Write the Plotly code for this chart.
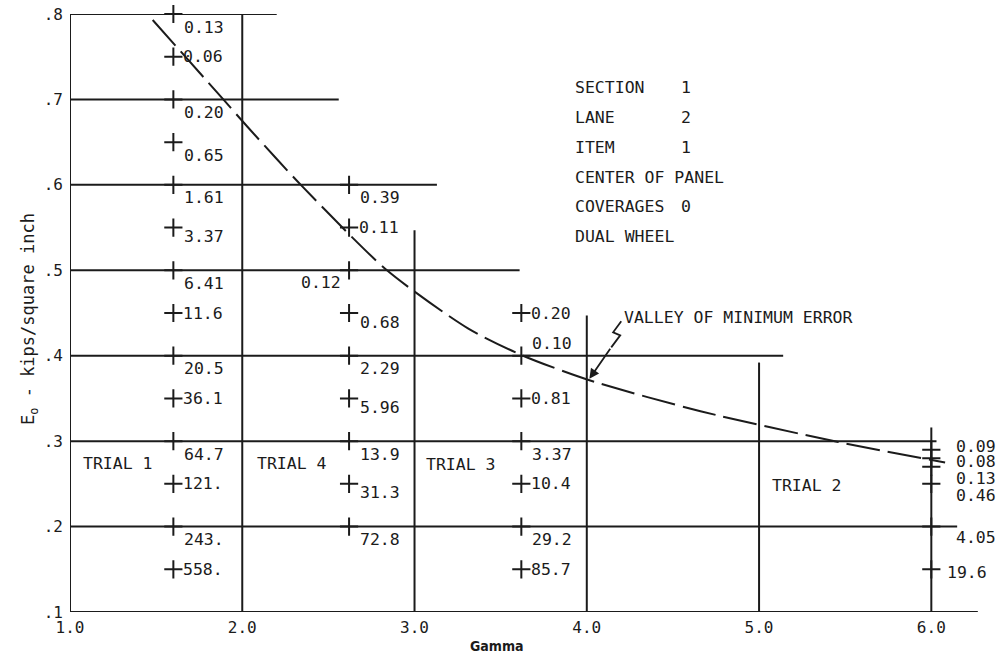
import plotly.graph_objects as go

# ---------------- data ----------------
# Gamma used for each trial and the E0 values tried along that column;
# each point carries the error figure printed beside it.
trial_names = ["TRIAL 1", "TRIAL 4", "TRIAL 3", "TRIAL 2"]
trial_gamma = [1.6, 2.62, 3.62, 6.0]

trial1_e0 = [0.80, 0.75, 0.70, 0.65, 0.60, 0.55, 0.50, 0.45, 0.40, 0.35, 0.30, 0.25, 0.20, 0.15]
trial1_err = ["0.13", "0.06", "0.20", "0.65", "1.61", "3.37", "6.41", "11.6", "20.5", "36.1",
              "64.7", "121.", "243.", "558."]

trial4_e0 = [0.60, 0.55, 0.50, 0.45, 0.40, 0.35, 0.30, 0.25, 0.20]
trial4_err = ["0.39", "0.11", "0.12", "0.68", "2.29", "5.96", "13.9", "31.3", "72.8"]

trial3_e0 = [0.45, 0.40, 0.35, 0.30, 0.25, 0.20, 0.15]
trial3_err = ["0.20", "0.10", "0.81", "3.37", "10.4", "29.2", "85.7"]

trial2_e0 = [0.29, 0.28, 0.27, 0.25, 0.20, 0.15]
trial2_err = ["0.09", "0.08", "0.13", "0.46", "4.05", "19.6"]

# Valley of minimum error (dashed curve)
valley_gamma = [1.48, 1.89, 2.03, 2.34, 2.84, 3.31, 3.63, 4.02, 4.66, 5.46, 6.08]
valley_e0 = [0.793, 0.700, 0.668, 0.600, 0.500, 0.432, 0.400, 0.371, 0.335, 0.299, 0.275]

# Horizontal guide lines (E0 level, gamma where the line stops)
guide_e0 = [0.8, 0.7, 0.6, 0.5, 0.4, 0.3, 0.2]
guide_end = [2.20, 2.56, 3.13, 3.61, 5.14, 6.03, 6.15]
# Vertical guide lines (gamma, E0 where the line stops)
vguide_gamma = [2.0, 3.0, 4.0, 5.0, 6.0]
vguide_top = [0.80, 0.547, 0.447, 0.392, 0.316]

x_tickvals = [1.0, 2.0, 3.0, 4.0, 5.0, 6.0]
x_ticktext = ["1.0", "2.0", "3.0", "4.0", "5.0", "6.0"]
y_tickvals = [0.1, 0.2, 0.3, 0.4, 0.5, 0.6, 0.7, 0.8]
y_ticktext = [".1", ".2", ".3", ".4", ".5", ".6", ".7", ".8"]

info_keys = ["SECTION", "LANE", "ITEM", "CENTER OF PANEL", "COVERAGES", "DUAL WHEEL"]
info_vals = ["1", "2", "1", "", "0", ""]

# ---------------- styling ----------------
ink = "#1b1b1b"
mono = "DejaVu Sans Mono, Liberation Mono, monospace"
lab_font = dict(family=mono, size=16.5, color=ink)

# label placement relative to its "+" mark: (xshift, yshift, xanchor)
place = {
    "b": (9, -13, "left"),    # just under a guide line
    "s": (9, -9, "left"),     # slightly lowered
    "r": (8, 0, "left"),      # level, to the right
    "lb": (-6, -12, "right"),  # under, to the left
    "a": (9, 12, "left"),     # above, to the right
}
trial1_place = ["b", "r", "b", "b", "b", "s", "b", "r", "b", "r", "b", "r", "b", "r"]
trial4_place = ["b", "r", "lb", "s", "b", "s", "b", "s", "b"]
trial3_place = ["r", "a", "r", "b", "r", "b", "r"]
trial2_shift = [(23, 3), (23, -3), (23, -12), (23, -12), (23, -11), (14, -3)]

fig = go.Figure()

# dashed valley curve
fig.add_trace(go.Scatter(
    x=valley_gamma, y=valley_e0, mode="lines",
    line=dict(color=ink, width=2, shape="spline", smoothing=0.7, dash="34px,8px"),
    hoverinfo="skip", showlegend=False, cliponaxis=False,
))

annotations = []
columns = [
    (trial_gamma[0], trial1_e0, trial1_err, trial1_place),
    (trial_gamma[1], trial4_e0, trial4_err, trial4_place),
    (trial_gamma[2], trial3_e0, trial3_err, trial3_place),
]
for g, ys, errs, plc in columns:
    fig.add_trace(go.Scatter(
        x=[g] * len(ys), y=ys, mode="markers",
        marker=dict(symbol="cross-thin", size=13, line=dict(color=ink, width=2)),
        hoverinfo="skip", showlegend=False, cliponaxis=False,
    ))
    for y, txt, p in zip(ys, errs, plc):
        xs, ysh, xa = place[p]
        annotations.append(dict(x=g, y=y, xref="x", yref="y", text=txt, showarrow=False,
                                xanchor=xa, yanchor="middle", xshift=xs, yshift=ysh,
                                font=lab_font))

g2 = trial_gamma[3]
fig.add_trace(go.Scatter(
    x=[g2] * len(trial2_e0), y=trial2_e0, mode="markers",
    marker=dict(symbol="cross-thin", size=13, line=dict(color=ink, width=2)),
    hoverinfo="skip", showlegend=False, cliponaxis=False,
))
for y, txt, (xs, ysh) in zip(trial2_e0, trial2_err, trial2_shift):
    annotations.append(dict(x=g2, y=y, xref="x", yref="y", text=txt, showarrow=False,
                            xanchor="left", yanchor="middle", xshift=xs, yshift=ysh,
                            font=lab_font))

# trial names
trial_label_pos = [(1.064, 0.274), (2.074, 0.274), (3.056, 0.273), (5.065, 0.2485)]
for name, (gx, ey) in zip(trial_names, trial_label_pos):
    annotations.append(dict(x=gx, y=ey, xref="x", yref="y", text=name, showarrow=False,
                            xanchor="left", yanchor="middle", font=lab_font))

# info block
info_top, info_step = 0.7145, 0.0351
for i, (k, v) in enumerate(zip(info_keys, info_vals)):
    ey = info_top - i * info_step
    annotations.append(dict(x=3.921, y=ey, xref="x", yref="y", text=k, showarrow=False,
                            xanchor="left", yanchor="middle", font=lab_font))
    if v:
        annotations.append(dict(x=4.536, y=ey, xref="x", yref="y", text=v, showarrow=False,
                                xanchor="left", yanchor="middle", font=lab_font))

# valley callout with its zig-zag leader
annotations.append(dict(x=4.203, y=0.4452, xref="x", yref="y", text="VALLEY OF MINIMUM ERROR",
                        showarrow=False, xanchor="left", yanchor="middle", font=lab_font))
fig.add_trace(go.Scatter(
    x=[4.200, 4.153, 4.194, 4.142], y=[0.4403, 0.4274, 0.4239, 0.4098], mode="lines",
    line=dict(color=ink, width=1.8), hoverinfo="skip", showlegend=False, cliponaxis=False,
))
annotations.append(dict(x=4.015, y=0.373, xref="x", yref="y", ax=4.142, ay=0.4098,
                        axref="x", ayref="y", text="", showarrow=True, arrowhead=2,
                        arrowsize=1.1, arrowwidth=1.8, arrowcolor=ink, standoff=0))

# axis titles
annotations.append(dict(x=0.4677, y=-0.0569, xref="paper", yref="paper", text="<b>Gamma</b>",
                        showarrow=False, xanchor="center", yanchor="middle",
                        font=dict(family="Liberation Sans Narrow, DejaVu Sans Condensed, Arial Narrow, sans-serif",
                                  size=14, color=ink)))
annotations.append(dict(x=-0.0438, y=0.49, xref="paper", yref="paper",
                        text="E<sub>o</sub> - kips/square inch", textangle=-90,
                        showarrow=False, xanchor="center", yanchor="middle",
                        font=dict(family=mono, size=17, color=ink)))

# guide lines and the drawn axes
shapes = []
for e, g_end in zip(guide_e0, guide_end):
    shapes.append(dict(type="line", xref="x", yref="y", x0=1.0, x1=g_end, y0=e, y1=e,
                       line=dict(color=ink, width=2)))
for g, top in zip(vguide_gamma, vguide_top):
    shapes.append(dict(type="line", xref="x", yref="y", x0=g, x1=g, y0=0.1, y1=top,
                       line=dict(color=ink, width=2)))
shapes.append(dict(type="line", xref="x", yref="y", x0=1.0, x1=1.0, y0=0.1, y1=0.8,
                   line=dict(color=ink, width=2)))
shapes.append(dict(type="line", xref="x", yref="y", x0=1.0, x1=6.27, y0=0.1, y1=0.1,
                   line=dict(color=ink, width=2)))

fig.update_layout(
    width=997, height=658,
    margin=dict(l=70, r=14, t=14, b=46, autoexpand=False),
    paper_bgcolor="white", plot_bgcolor="white",
    shapes=shapes, annotations=annotations,
    xaxis=dict(range=[1.0, 6.3], tickvals=x_tickvals, ticktext=x_ticktext, automargin=False,
               showgrid=False, zeroline=False, showline=False, ticks="",
               tickfont=dict(family=mono, size=16, color=ink), ticklabelstandoff=4),
    yaxis=dict(range=[0.1, 0.8], tickvals=y_tickvals, ticktext=y_ticktext, automargin=False,
               showgrid=False, zeroline=False, showline=False, ticks="",
               tickfont=dict(family=mono, size=16, color=ink), ticklabelstandoff=6),
)

fig.write_html("out.html")
